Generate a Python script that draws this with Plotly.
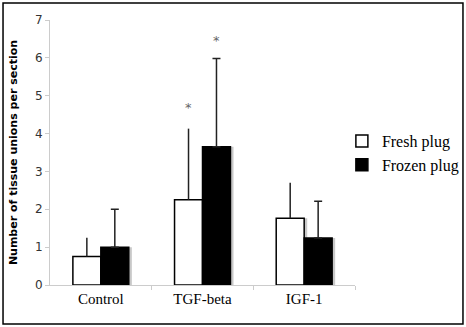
import plotly.graph_objects as go

categories = ["Control", "TGF-beta", "IGF-1"]
fresh = [0.75, 2.25, 1.76]
frozen = [1.0, 3.65, 1.24]
fresh_err = [0.5, 1.88, 0.94]
frozen_err = [1.0, 2.33, 0.97]
star_fresh = [None, 4.7, None]
star_frozen = [None, 6.45, None]

W = 0.275
xi = list(range(len(categories)))

fig = go.Figure()
# shadows
for vals, off in [(fresh, -W), (frozen, 0.0)]:
    fig.add_trace(go.Bar(x=xi, y=vals, width=W, offset=off + 0.03,
                         marker=dict(color="#c8c8c8", line=dict(width=0)),
                         showlegend=False, hoverinfo="skip"))
fig.add_trace(go.Bar(x=xi, y=fresh, width=W, offset=-W, name="Fresh plug",
                     marker=dict(color="white", line=dict(color="black", width=1.5)),
                     error_y=dict(type="data", array=fresh_err, arrayminus=[0]*3,
                                  color="#222", thickness=1.5, width=0)))
fig.add_trace(go.Bar(x=xi, y=frozen, width=W, offset=0, name="Frozen plug",
                     marker=dict(color="black", line=dict(color="black", width=1.5)),
                     error_y=dict(type="data", array=frozen_err, arrayminus=[0]*3,
                                  color="#222", thickness=1.5, width=4)))

for i, (a, b) in enumerate(zip(star_fresh, star_frozen)):
    if a is not None:
        fig.add_annotation(x=i - W / 2, y=a, text="*", showarrow=False,
                           font=dict(family="DejaVu Sans", size=13, color="#666"))
    if b is not None:
        fig.add_annotation(x=i + W / 2, y=b, text="*", showarrow=False,
                           font=dict(family="DejaVu Sans", size=13, color="#666"))

fig.add_shape(type="rect", xref="paper", yref="paper",
              x0=-0.154, x1=1.354, y0=-0.147, y1=1.064,
              line=dict(color="black", width=1.5))

fig.update_layout(
    width=466, height=327,
    margin=dict(l=50, r=111, t=20, b=42, autoexpand=False),
    paper_bgcolor="white", plot_bgcolor="white",
    barmode="overlay",
    showlegend=True,
    legend=dict(x=0.957, y=0.607, xanchor="left", yanchor="top",
                font=dict(family="Liberation Serif", size=16, color="black"),
                bgcolor="rgba(0,0,0,0)", tracegroupgap=0, itemwidth=30),
    xaxis=dict(range=[-0.5, 2.5], tickmode="array", tickvals=xi, ticktext=categories,
               showline=True, linecolor="#cccccc", linewidth=1, showgrid=False,
               ticks="", zeroline=False, automargin=False,
               minor=dict(tickvals=[0.5, 1.5, 2.5], ticks="outside", ticklen=4,
                          tickcolor="#cccccc", showgrid=False),
               tickfont=dict(family="Liberation Serif", size=15, color="black")),
    yaxis=dict(range=[0, 7], dtick=1, showline=True, linecolor="#cccccc", linewidth=1,
               showgrid=False, zeroline=False, ticks="outside", ticklen=4,
               tickcolor="#cccccc", automargin=False,
               tickfont=dict(family="DejaVu Sans", size=12, color="#333"),
               title=dict(text="<b>Number of tissue unions per section</b>",
                          font=dict(family="DejaVu Sans", size=11, color="black"))),
)

fig.write_html("out.html", config={"displayModeBar": False},
               post_script="document.body.style.margin='0';")
